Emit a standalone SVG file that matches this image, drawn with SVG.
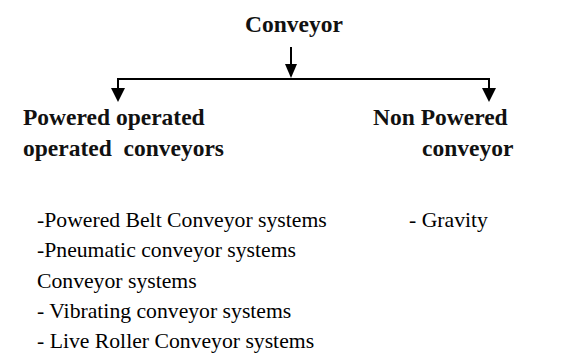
<svg xmlns="http://www.w3.org/2000/svg" width="586" height="356" viewBox="0 0 586 356">
<style>
.h{font-family:'Liberation Serif','Times New Roman',serif;font-weight:bold;font-size:23.5px;fill:#111}
.t{font-family:'Liberation Serif','Times New Roman',serif;font-size:21.7px;fill:#000}
.ln{stroke:#000;stroke-width:2;fill:none}
.ah{fill:#000}
</style>
<rect width="586" height="356" fill="#fff"/>
<g id="connectors">
<line class="ln" x1="291" y1="47" x2="291" y2="66"/>
<polygon class="ah" points="285,64 297,64 291,78"/>
<polyline class="ln" points="118,90 118,79 489,79 489,90"/>
<polygon class="ah" points="111,88 125,88 118,102"/>
<polygon class="ah" points="482,88 496,88 489,102"/>
</g>
<g id="conveyor"><text class="h" x="245" y="32">Conveyor</text></g>
<g id="powered"><text class="h" x="23" y="125">Powered operated</text><text class="h" x="23" y="156" xml:space="preserve">operated  conveyors</text></g>
<g id="nonpowered"><text class="h" x="373" y="125">Non Powered</text><text class="h" x="422" y="156">conveyor</text></g>
<g id="list">
<text class="t" x="37" y="227">-Powered Belt Conveyor systems</text>
<text class="t" x="37" y="257">-Pneumatic conveyor systems</text>
<text class="t" x="37" y="288">Conveyor systems</text>
<text class="t" x="37" y="318">- Vibrating conveyor systems</text>
<text class="t" x="37" y="348">- Live Roller Conveyor systems</text>
<text class="t" x="409" y="227">- Gravity</text>
</g>
</svg>
